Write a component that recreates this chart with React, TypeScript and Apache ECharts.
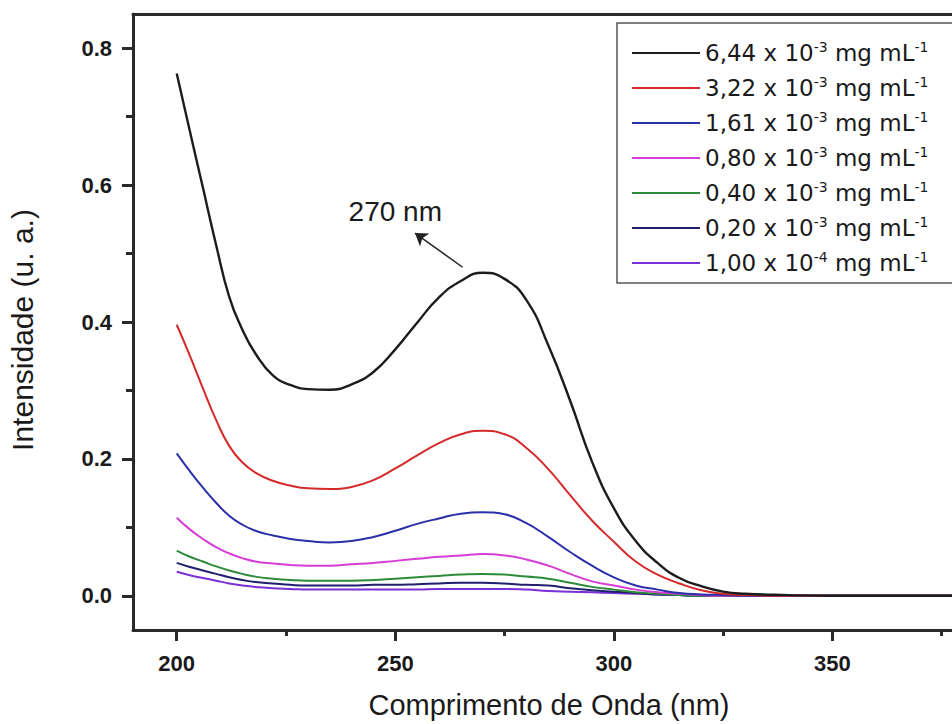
import React, { useEffect, useRef } from "react";
import * as echarts from "echarts";

// Wavelengths (nm) sampled along each spectrum
const wavelengths = [200, 203, 206, 209, 212, 215, 218, 222, 226, 230, 235, 240, 245, 250, 255, 260, 265, 270, 275, 280, 285, 290, 295, 300, 305, 310, 315, 320, 325, 330, 340, 350, 360, 370, 380, 390, 400];

const s644 = [0.763, 0.679, 0.596, 0.513, 0.437, 0.389, 0.354, 0.322, 0.308, 0.302, 0.301, 0.309, 0.327, 0.360, 0.399, 0.436, 0.460, 0.472, 0.463, 0.432, 0.366, 0.285, 0.196, 0.128, 0.080, 0.048, 0.026, 0.014, 0.006, 0.003, 0.001, 0, 0, 0, 0, 0, 0];
const s322 = [0.396, 0.351, 0.303, 0.257, 0.219, 0.195, 0.180, 0.168, 0.161, 0.157, 0.156, 0.159, 0.169, 0.186, 0.205, 0.223, 0.236, 0.241, 0.236, 0.216, 0.185, 0.147, 0.110, 0.079, 0.050, 0.031, 0.018, 0.008, 0.003, 0.001, 0, 0, 0, 0, 0, 0, 0];
const s161 = [0.208, 0.182, 0.158, 0.136, 0.117, 0.104, 0.095, 0.088, 0.083, 0.080, 0.078, 0.080, 0.086, 0.095, 0.105, 0.113, 0.120, 0.122, 0.119, 0.106, 0.086, 0.064, 0.044, 0.027, 0.015, 0.009, 0.004, 0.002, 0.001, 0, 0, 0, 0, 0, 0, 0, 0];
const s080 = [0.114, 0.097, 0.083, 0.071, 0.062, 0.055, 0.050, 0.047, 0.045, 0.044, 0.044, 0.046, 0.048, 0.051, 0.054, 0.057, 0.059, 0.061, 0.059, 0.053, 0.044, 0.032, 0.021, 0.015, 0.009, 0.005, 0.003, 0.001, 0, 0, 0, 0, 0, 0, 0, 0, 0];
const s040 = [0.066, 0.057, 0.050, 0.043, 0.037, 0.032, 0.028, 0.025, 0.023, 0.022, 0.022, 0.022, 0.023, 0.025, 0.027, 0.029, 0.031, 0.032, 0.031, 0.028, 0.025, 0.019, 0.013, 0.009, 0.005, 0.003, 0.001, 0, 0, 0, 0, 0, 0, 0, 0, 0, 0];
const s020 = [0.048, 0.042, 0.037, 0.032, 0.027, 0.023, 0.020, 0.018, 0.016, 0.015, 0.015, 0.015, 0.016, 0.016, 0.017, 0.018, 0.019, 0.019, 0.018, 0.016, 0.015, 0.011, 0.008, 0.006, 0.004, 0.002, 0.001, 0, 0, 0, 0, 0, 0, 0, 0, 0, 0];
const s001 = [0.035, 0.030, 0.026, 0.022, 0.018, 0.015, 0.013, 0.011, 0.010, 0.009, 0.009, 0.009, 0.009, 0.009, 0.009, 0.010, 0.010, 0.010, 0.010, 0.009, 0.007, 0.006, 0.005, 0.004, 0.003, 0.002, 0.001, 0, 0, 0, 0, 0, 0, 0, 0, 0, 0];

const seriesValues = [s644, s322, s161, s080, s040, s020, s001];
const concMantissa = ["6,44", "3,22", "1,61", "0,80", "0,40", "0,20", "1,00"];
const concExponent = ["-3", "-3", "-3", "-3", "-3", "-3", "-4"];
const seriesColors = ["#1c1c1c", "#d42a2a", "#2b2fa8", "#d63cd6", "#2e8b3a", "#1f1f6e", "#7b2fd6"];

const xMajorTicks = [200, 250, 300, 350, 400];
const xMajorLabels = [200, 250, 300, 350];
const xMinorTicks = [225, 275, 325, 375];
const yMajorTicks = [0, 0.2, 0.4, 0.6, 0.8];
const yMinorTicks = [0.1, 0.3, 0.5, 0.7];

const annotationText = "270 nm";
const annotationTextPos = [250, 0.561];
const arrowFrom = [265.4, 0.48];
const arrowTo = [254.5, 0.53];

const xTitle = "Comprimento de Onda (nm)";
const yTitle = "Intensidade (u. a.)";

const AX_FONT = "Liberation Sans, Arial, Helvetica, sans-serif";
const LEG_FONT = "DejaVu Sans, Verdana, sans-serif";
const TXT = "#1a1a1a";
const AXIS_COLOR = "#2a2a2a";

function seriesName(i: number) {
  return `${concMantissa[i]} x 10${concExponent[i]} mg mL-1`;
}

export default function App() {
  const ref = useRef<HTMLDivElement>(null);

  useEffect(() => {
    if (!ref.current) return;
    const chart = echarts.init(ref.current, undefined, { renderer: "svg" });

    const names = concMantissa.map((_, i) => seriesName(i));

    const series: any[] = seriesValues.map((vals, i) => ({
      type: "line",
      name: names[i],
      data: wavelengths.map((w, k) => [w, vals[k]]),
      xAxisIndex: 0,
      yAxisIndex: 0,
      symbol: "none",
      showSymbol: false,
      smooth: 0.5,
      lineStyle: { color: seriesColors[i], width: i === 0 ? 2.4 : 2 },
      itemStyle: { color: seriesColors[i] },
      silent: true,
      z: 10 - i,
    }));

    series[0].markLine = {
      silent: true,
      symbol: ["none", "arrow"],
      symbolSize: 12,
      label: { show: false },
      lineStyle: { color: "#222", width: 1.5, type: "solid" },
      data: [[{ coord: arrowFrom }, { coord: arrowTo }]],
    };
    series[0].markPoint = {
      silent: true,
      symbol: "circle",
      symbolSize: 0,
      data: [
        {
          coord: annotationTextPos,
          label: {
            show: true,
            position: "inside",
            formatter: annotationText,
            fontFamily: AX_FONT,
            fontSize: 28,
            color: TXT,
          },
        },
      ],
    };

    const option: any = {
      animation: false,
      backgroundColor: "#ffffff",
      grid: {
        left: 133,
        top: 14,
        width: 918,
        height: 616,
        containLabel: false,
        outerBoundsMode: "none",
        show: false,
      },
      legend: {
        orient: "vertical",
        left: 617,
        top: 23,
        padding: [17, 90, 7, 15],
        borderColor: "#555",
        borderWidth: 1.5,
        backgroundColor: "#fff",
        icon: "rect",
        itemWidth: 68,
        itemHeight: 2,
        itemGap: 9,
        selectedMode: false,
        data: names,
        formatter: (name: string) => {
          const i = names.indexOf(name);
          return `{n|${concMantissa[i]} x 10}{s|${concExponent[i]}}{n| mg mL}{s|-1}`;
        },
        textStyle: {
          fontFamily: LEG_FONT,
          fontSize: 23,
          lineHeight: 26,
          color: TXT,
          rich: {
            n: { fontFamily: LEG_FONT, fontSize: 23, lineHeight: 26, color: TXT },
            s: { fontFamily: LEG_FONT, fontSize: 14, lineHeight: 14, verticalAlign: "top", color: TXT },
          },
        },
      },
      xAxis: [
        {
          type: "value",
          position: "bottom",
          min: 190,
          max: 400,
          axisLine: { show: true, onZero: false, lineStyle: { color: AXIS_COLOR, width: 3 } },
          axisTick: { show: true, inside: false, length: 11, customValues: xMajorTicks, lineStyle: { color: AXIS_COLOR, width: 3 } },
          axisLabel: {
            show: true,
            customValues: xMajorLabels,
            margin: 22,
            fontFamily: AX_FONT,
            fontWeight: "bold",
            fontSize: 22,
            color: TXT,
          },
          splitLine: { show: false },
        },
        {
          type: "value",
          position: "bottom",
          min: 190,
          max: 400,
          axisLine: { show: false, onZero: false },
          axisTick: { show: true, inside: false, length: 6, customValues: xMinorTicks, lineStyle: { color: AXIS_COLOR, width: 3 } },
          axisLabel: { show: false },
          splitLine: { show: false },
        },
        {
          type: "value",
          position: "top",
          min: 190,
          max: 400,
          axisLine: { show: true, onZero: false, lineStyle: { color: AXIS_COLOR, width: 3 } },
          axisTick: { show: false },
          axisLabel: { show: false },
          splitLine: { show: false },
        },
      ],
      yAxis: [
        {
          type: "value",
          position: "left",
          min: -0.05,
          max: 0.85,
          axisLine: { show: true, onZero: false, lineStyle: { color: AXIS_COLOR, width: 3 } },
          axisTick: { show: true, inside: false, length: 11, customValues: yMajorTicks, lineStyle: { color: AXIS_COLOR, width: 3 } },
          axisLabel: {
            show: true,
            customValues: yMajorTicks,
            margin: 21,
            formatter: (v: number) => v.toFixed(1),
            fontFamily: AX_FONT,
            fontWeight: "bold",
            fontSize: 22,
            color: TXT,
          },
          splitLine: { show: false },
        },
        {
          type: "value",
          position: "left",
          min: -0.05,
          max: 0.85,
          axisLine: { show: false, onZero: false },
          axisTick: { show: true, inside: false, length: 7, customValues: yMinorTicks, lineStyle: { color: AXIS_COLOR, width: 3 } },
          axisLabel: { show: false },
          splitLine: { show: false },
        },
      ],
      graphic: [
        {
          type: "text",
          x: 549,
          y: 705,
          silent: true,
          style: {
            text: xTitle,
            fontFamily: AX_FONT,
            fontSize: 29,
            fill: TXT,
            align: "center",
            verticalAlign: "middle",
            textAlign: "center",
            textVerticalAlign: "middle",
          },
        },
        {
          type: "text",
          x: 22,
          y: 330,
          rotation: Math.PI / 2,
          silent: true,
          style: {
            text: yTitle,
            fontFamily: AX_FONT,
            fontSize: 30,
            fill: TXT,
            align: "center",
            verticalAlign: "middle",
            textAlign: "center",
            textVerticalAlign: "middle",
          },
        },
      ],
      series,
    };

    chart.setOption(option);
    return () => chart.dispose();
  }, []);

  return (
    <div
      style={{
        position: "fixed",
        left: 0,
        top: 0,
        width: 952,
        height: 724,
        overflow: "hidden",
        background: "#ffffff",
      }}
    >
      <div ref={ref} style={{ width: 1150, height: 724 }} />
    </div>
  );
}
